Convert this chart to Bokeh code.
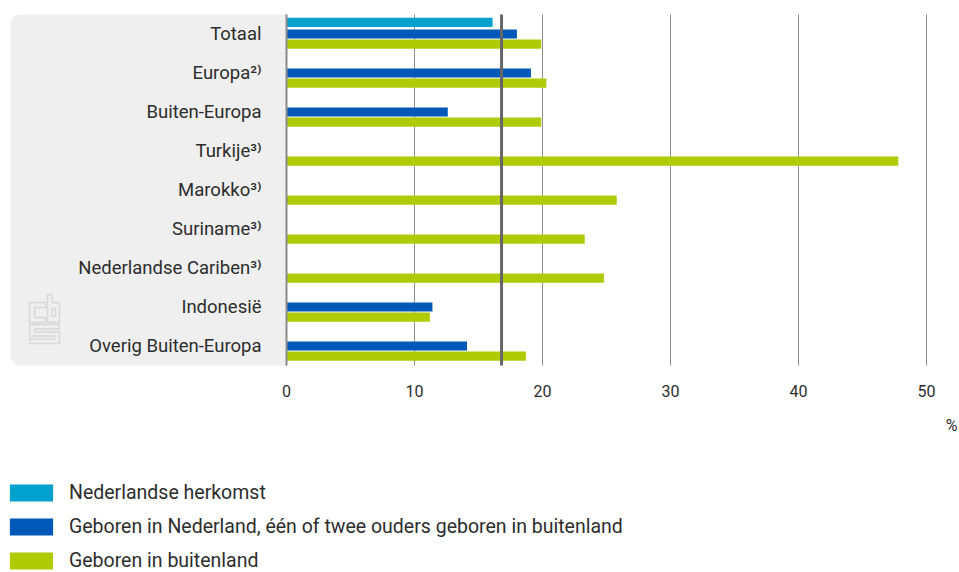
from bokeh.plotting import figure
from bokeh.models import (ColumnDataSource, Range1d, FixedTicker, BoxAnnotation,
                          PolyAnnotation, Label, Legend, LegendItem)
from bokeh.transform import dodge
from bokeh.embed import file_html
from bokeh.resources import INLINE

nan = float("nan")
categories = ["Totaal", "Europa²⁾", "Buiten-Europa", "Turkije³⁾", "Marokko³⁾",
              "Suriname³⁾", "Nederlandse Cariben³⁾", "Indonesië", "Overig Buiten-Europa"]
nederlandse_herkomst = [16.1, nan, nan, nan, nan, nan, nan, nan, nan]
tweede_generatie = [18.0, 19.1, 12.6, nan, nan, nan, nan, 11.4, 14.1]
eerste_generatie = [19.9, 20.3, 19.9, 47.8, 25.8, 23.3, 24.8, 11.2, 18.7]
reference_value = 16.8
x_ticks = [0, 10, 20, 30, 40, 50]
series_labels = ["Nederlandse herkomst",
                 "Geboren in Nederland, één of twee ouders geboren in buitenland",
                 "Geboren in buitenland"]
colors = ["#00a1cd", "#0058b8", "#afcb05"]

FONT = "Roboto"
TEXT = "#2d2d2d"
W, H = 959, 572
X0_PX, X50_PX = 286, 926          # pixel positions of 0 and 50 on the value axis
FIRST_PX, PITCH = 33.5, 39.0      # centre of the first category, px per category
PX_X = (X50_PX - X0_PX) / 50.0
n = len(categories)


def dx(px):
    return (px - X0_PX) / PX_X


def dy(py):
    return (py - FIRST_PX) / PITCH


src = ColumnDataSource(dict(pos=list(range(n)), nh=nederlandse_herkomst,
                            tg=tweede_generatie, eg=eerste_generatie))

p = figure(width=W, height=H, title=None,
           x_range=Range1d(dx(0), dx(W)), y_range=Range1d(dy(H), dy(0)),
           output_backend="svg", toolbar_location=None,
           min_border_left=0, min_border_right=0, min_border_top=0, min_border_bottom=0)
p.outline_line_color = None
p.background_fill_color = "white"
p.border_fill_color = "white"
p.xgrid.visible = False
p.ygrid.visible = False

top_edge, bottom_edge = -0.5, n - 0.5

# grey label panel with rounded left corners
p.add_layout(BoxAnnotation(left=dx(10), right=0, top=top_edge, bottom=bottom_edge,
                           fill_color="#efefef", fill_alpha=1, line_color=None,
                           level="underlay", border_radius=(10, 0, 0, 10)))

# cbs logo (outline)
logo_shapes = [
    [(29, 302), (45, 302), (45, 307), (34, 307), (34, 317), (45, 317), (45, 322), (29, 322)],
    [(47, 294), (51.5, 294), (51.5, 302), (59, 302), (59, 322), (47, 322)],
    [(51.5, 308), (55, 308), (55, 316), (51.5, 316)],
    [(29, 324), (59, 324), (59, 328.5), (34, 328.5), (34, 331.5), (59, 331.5), (59, 343),
     (29, 343), (29, 338.5), (54, 338.5), (54, 335.5), (29, 335.5)],
]
for shape in logo_shapes:
    p.add_layout(PolyAnnotation(xs=[dx(a) for a, b in shape], ys=[dy(b) for a, b in shape],
                                fill_alpha=0, line_color="#a3a3a3", line_width=1.4,
                                level="underlay"))

# vertical grid lines
p.segment(x0=x_ticks, x1=x_ticks, y0=[top_edge] * len(x_ticks),
          y1=[bottom_edge] * len(x_ticks), line_color="#8f8f8f", line_width=1)

bh = 0.235
r1 = p.hbar(y=dodge("pos", -0.30, range=p.y_range), left=0, right="nh", height=bh,
            source=src, fill_color=colors[0], line_color=None)
r2 = p.hbar(y=dodge("pos", 0.0, range=p.y_range), left=0, right="tg", height=bh,
            source=src, fill_color=colors[1], line_color=None)
r3 = p.hbar(y=dodge("pos", 0.26, range=p.y_range), left=0, right="eg", height=bh,
            source=src, fill_color=colors[2], line_color=None)

# base line at 0 and reference line
p.segment(x0=[0], x1=[0], y0=[top_edge], y1=[bottom_edge], line_color="#8c8c8c", line_width=2)
p.segment(x0=[reference_value], x1=[reference_value], y0=[top_edge], y1=[bottom_edge],
          line_color="#666666", line_width=3)

# axes fixed inside the canvas
p.xaxis.ticker = FixedTicker(ticks=x_ticks)
p.xaxis.fixed_location = bottom_edge
p.xaxis.axis_line_color = None
p.xaxis.major_tick_line_color = None
p.xaxis.minor_tick_line_color = None
p.xaxis.major_tick_out = 0
p.xaxis.major_label_standoff = 19
p.xaxis.major_label_text_font = FONT
p.xaxis.major_label_text_font_size = "16px"
p.xaxis.major_label_text_color = TEXT

p.yaxis.ticker = FixedTicker(ticks=list(range(n)))
p.yaxis.major_label_overrides = {i: c for i, c in enumerate(categories)}
p.yaxis.fixed_location = 0
p.yaxis.axis_line_color = None
p.yaxis.major_tick_line_color = None
p.yaxis.minor_tick_line_color = None
p.yaxis.major_tick_out = 0
p.yaxis.major_label_standoff = 25
p.yaxis.major_label_text_font = FONT
p.yaxis.major_label_text_font_size = "18.5px"
p.yaxis.major_label_text_color = TEXT

p.add_layout(Label(x=dx(957), y=dy(425), text="%", text_align="right",
                   text_baseline="middle", text_font=FONT, text_font_size="16px",
                   text_color=TEXT))

legend = Legend(items=[LegendItem(label=series_labels[0], renderers=[r1]),
                       LegendItem(label=series_labels[1], renderers=[r2]),
                       LegendItem(label=series_labels[2], renderers=[r3])],
                location=(4, 0),
                orientation="vertical", glyph_width=54, glyph_height=21,
                label_height=16, label_standoff=11, spacing=11, padding=0, margin=0,
                border_line_alpha=0, background_fill_alpha=0,
                label_text_font=FONT, label_text_font_size="19.5px",
                label_text_color=TEXT)
p.add_layout(legend)

open("out.html", "w").write(file_html(p, INLINE))
